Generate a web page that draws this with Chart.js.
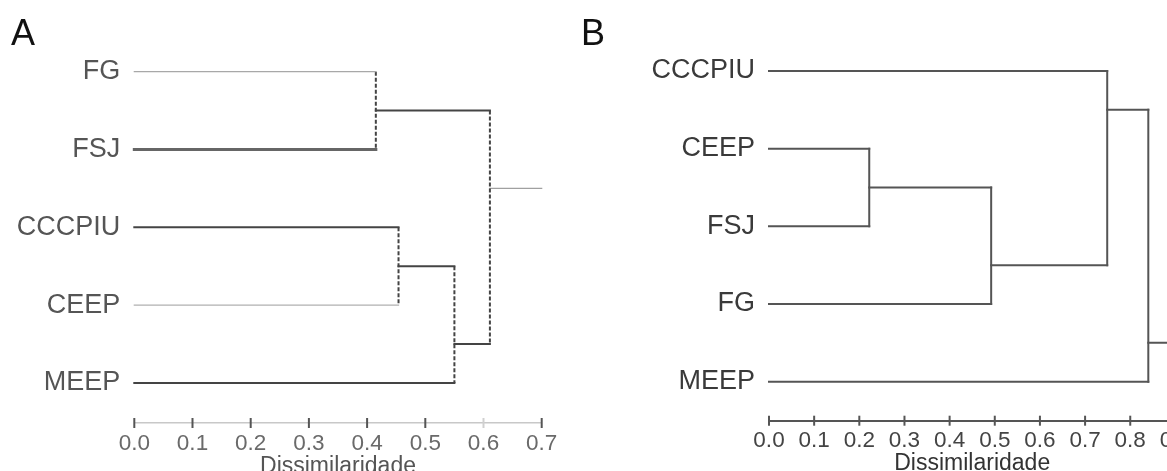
<!DOCTYPE html>
<html><head><meta charset="utf-8">
<script src="https://cdn.jsdelivr.net/npm/chart.js@4/dist/chart.umd.min.js"></script>
<style>
html,body{margin:0;padding:0;background:#fff;overflow:hidden;width:1167px;height:471px;position:relative;}
#wrapA{position:absolute;left:0;top:0;width:580px;height:490px;}
#wrapB{position:absolute;left:580px;top:0;width:640px;height:490px;}
canvas{display:block;}
</style></head><body>
<div id="wrapA"><canvas id="cA" width="580" height="490"></canvas></div>
<div id="wrapB"><canvas id="cB" width="640" height="490"></canvas></div>
<script>
// ---------- DATA ----------
// Panel A
const leavesA = ['FG', 'FSJ', 'CCCPIU', 'CEEP', 'MEEP'];
const mergeLeftA = [0, 2, 6, 5];      // child ids: 0..4 leaves, 5.. earlier merges
const mergeRightA = [1, 3, 4, 7];
const mergeHeightA = [0.415, 0.454, 0.55, 0.611];
const rootTailA = 0.7;
const tickValuesA = [0, 0.1, 0.2, 0.3, 0.4, 0.5, 0.6, 0.7];

// Panel B
const leavesB = ['CCCPIU', 'CEEP', 'FSJ', 'FG', 'MEEP'];
const mergeLeftB = [1, 5, 0, 7];
const mergeRightB = [2, 3, 6, 4];
const mergeHeightB = [0.222, 0.492, 0.749, 0.840];
const rootTailB = 0.95;
const tickValuesB = [0, 0.1, 0.2, 0.3, 0.4, 0.5, 0.6, 0.7, 0.8, 0.9];

const axisTitle = 'Dissimilaridade';

// ---------- STYLES ----------
const FONT = "'Liberation Sans', Arial, sans-serif";
const leafColorA = ['#a8a8a8', '#666', '#444', '#b0b0b0', '#444'];
const leafWidthA = [1.2, 3, 2, 1.2, 2];
const tickMarkColorA = ['#555', '#555', '#555', '#555', '#555', '#555', '#d0d0d0', '#555'];

// ---------- TREE -> SEGMENTS ----------
function buildTree(leaves, L, R, H) {
  const n = leaves.length;
  const nodes = leaves.map((_, i) => ({ y: i, h: 0, minLeaf: i, maxLeaf: i }));
  const leafSegs = leaves.map(() => null);
  const innerSegs = [], vertSegs = [];
  L.forEach((l, k) => {
    const r = R[k], h = H[k];
    const a = nodes[l], b = nodes[r];
    [[l, a], [r, b]].forEach(([id, c]) => {
      const seg = [{ x: c.h, y: c.y }, { x: h, y: c.y }];
      if (id < n) leafSegs[id] = seg; else innerSegs.push(seg);
    });
    vertSegs.push([{ x: h, y: a.y }, { x: h, y: b.y }]);
    const up = a.minLeaf < b.minLeaf ? a : b, lo = up === a ? b : a;
    nodes.push({
      y: (up.maxLeaf + lo.minLeaf) / 2, h: h,
      minLeaf: Math.min(a.minLeaf, b.minLeaf), maxLeaf: Math.max(a.maxLeaf, b.maxLeaf)
    });
  });
  return { leafSegs, innerSegs, vertSegs, root: nodes[nodes.length - 1] };
}

function seg(data, color, width, dash) {
  return {
    data, borderColor: color, borderWidth: width, borderDash: dash || [],
    pointRadius: 0, pointHoverRadius: 0, fill: false, tension: 0, clip: false,
    borderCapStyle: dash ? 'butt' : 'square', showLine: true
  };
}

const tickMarks = {
  id: 'tickMarks',
  afterDraw(chart, args, opts) {
    const s = chart.scales.x, ctx = chart.ctx, y = s.top;
    ctx.save();
    ctx.lineWidth = opts.width;
    s.ticks.forEach((t, i) => {
      const x = s.getPixelForValue(t.value);
      ctx.strokeStyle = opts.colors ? opts.colors[i] : opts.color;
      ctx.beginPath(); ctx.moveTo(x, y - 5); ctx.lineTo(x, y + 5); ctx.stroke();
    });
    ctx.restore();
  }
};

function makeChart(id, c) {
  const t = buildTree(c.leaves, c.L, c.R, c.H);
  const ds = [];
  t.leafSegs.forEach((s, i) => ds.push(seg(s, c.leafColor[i], c.leafWidth[i])));
  t.innerSegs.forEach(s => ds.push(seg(s, c.innerColor, c.innerWidth)));
  t.vertSegs.forEach(s => ds.push(seg(s, c.vertColor, c.vertWidth, c.vertDash)));
  ds.push(seg([{ x: t.root.h, y: t.root.y }, { x: c.tail, y: t.root.y }], c.tailColor, c.tailWidth));

  return new Chart(document.getElementById(id), {
    type: 'scatter',
    data: { datasets: ds },
    options: {
      responsive: false, animation: false, events: [],
      layout: { padding: c.pad },
      plugins: {
        legend: { display: false }, tooltip: { enabled: false },
        title: { display: true, text: c.letter, align: 'start', color: '#111',
          font: { family: FONT, size: 36, weight: 'normal' }, padding: { top: 0, bottom: 0 } },
        tickMarks: { width: 2, color: c.tickColor, colors: c.tickColors }
      },
      scales: {
        x: {
          type: 'linear', min: 0, max: c.xMax,
          afterBuildTicks: s => { s.ticks = c.tickValues.map(v => ({ value: v })); },
          afterFit: s => { s.height = c.xAxisHeight; },
          ticks: { autoSkip: false, maxRotation: 0, padding: c.tickPad, color: c.tickLabelColor,
            font: { family: FONT, size: 22.5 }, callback: v => Number(v).toFixed(1) },
          grid: { display: true, drawOnChartArea: false, drawTicks: true, tickLength: 6, color: 'rgba(0,0,0,0)' },
          border: { display: true, color: c.axisColor, width: c.axisWidth },
          title: { display: true, text: axisTitle, color: c.titleColor,
            font: { family: FONT, size: 23 }, padding: { top: 0, bottom: c.titlePadBottom } }
        },
        y: {
          type: 'linear', reverse: true, min: c.yMin, max: c.yMax,
          afterBuildTicks: s => { s.ticks = c.leaves.map((_, i) => ({ value: i })); },
          afterFit: s => { s.width = c.yAxisWidth; },
          ticks: { autoSkip: false, padding: 14, color: c.labelColor,
            font: { family: FONT, size: 27 }, callback: v => c.leaves[v] },
          grid: { display: false, drawTicks: false },
          border: { display: false }
        }
      }
    },
    plugins: [tickMarks]
  });
}

makeChart('cA', {
  leaves: leavesA, L: mergeLeftA, R: mergeRightA, H: mergeHeightA, tail: rootTailA,
  xMax: 0.7, tickValues: tickValuesA, letter: 'A',
  pad: { left: 11, right: 38.3, top: 13, bottom: 0 },
  yAxisWidth: 123.3, xAxisHeight: 67, yMin: -0.199, yMax: 4.514,
  leafColor: leafColorA, leafWidth: leafWidthA,
  innerColor: '#444', innerWidth: 2, vertColor: '#444', vertWidth: 2, vertDash: [4, 2],
  tailColor: '#a0a0a0', tailWidth: 1.2,
  axisColor: '#c8c8c8', axisWidth: 1.5, tickColor: '#555', tickColors: tickMarkColorA,
  tickLabelColor: '#6a6a6a', tickPad: 1.5, titleColor: '#555', titlePadBottom: 10,
  labelColor: '#555'
});

makeChart('cB', {
  leaves: leavesB, L: mergeLeftB, R: mergeRightB, H: mergeHeightB, tail: rootTailB,
  xMax: 0.9, tickValues: tickValuesB, letter: 'B',
  pad: { left: 1, right: 44.6, top: 13, bottom: 0 },
  yAxisWidth: 188, xAxisHeight: 69.3, yMin: -0.1905, yMax: 4.502,
  leafColor: leavesB.map(() => '#555'), leafWidth: leavesB.map(() => 2),
  innerColor: '#555', innerWidth: 2, vertColor: '#555', vertWidth: 2, vertDash: null,
  tailColor: '#555', tailWidth: 2,
  axisColor: '#555', axisWidth: 2, tickColor: '#555', tickColors: null,
  tickLabelColor: '#444', tickPad: 0.6, titleColor: '#333', titlePadBottom: 13,
  labelColor: '#3a3a3a'
});
</script>
</body></html>
